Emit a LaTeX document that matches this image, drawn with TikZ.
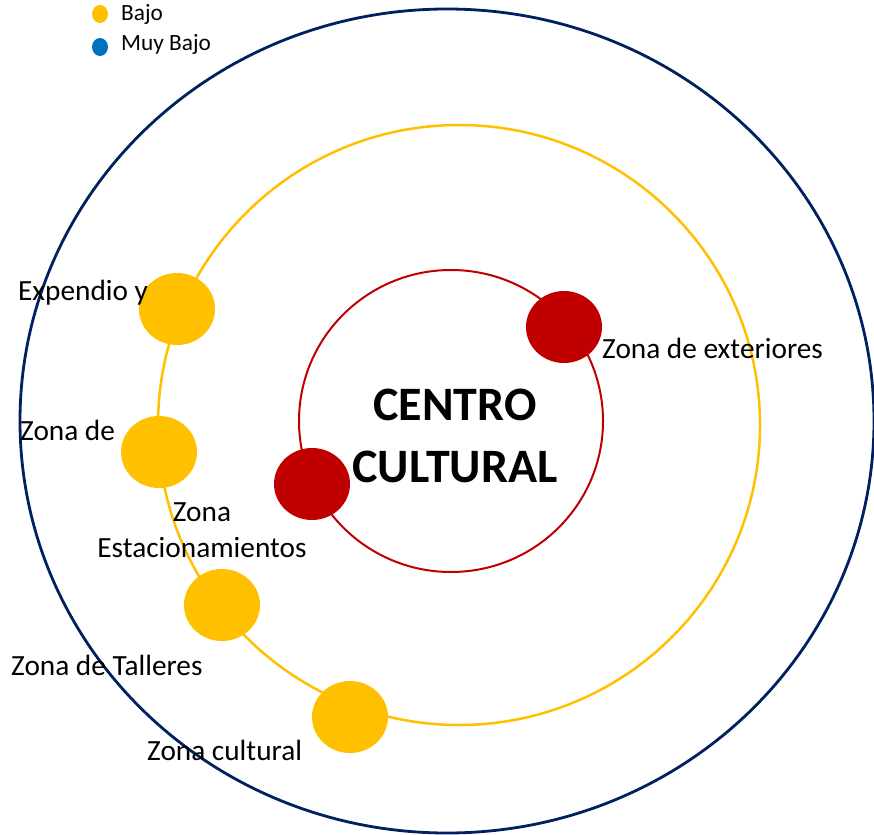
\documentclass[tikz,border=0pt]{standalone}
\usepackage{fontspec}
\setmainfont{Carlito}
\usetikzlibrary{shapes.geometric}
\definecolor{navyring}{HTML}{002060}
\definecolor{amber}{HTML}{FFC000}
\definecolor{deepred}{HTML}{C00000}
\definecolor{legendblue}{HTML}{0070C0}
\tikzset{
  zonedot/.style={ellipse, minimum width=76pt, minimum height=72pt, inner sep=0pt},
  legdot/.style={ellipse, minimum width=16pt, minimum height=18pt, inner sep=0pt},
  zonelabel/.style={inner sep=0pt, font=\fontsize{29.3}{35}\selectfont},
  leglabel/.style={inner sep=0pt, anchor=west, font=\fontsize{23.3}{27}\selectfont}
}
\begin{document}
\begin{tikzpicture}[x=1pt,y=-1pt]
\useasboundingbox (0,0) rectangle (874,834);
% rings
\draw[navyring, line width=2.8pt] (447,421) ellipse [x radius=427, y radius=412];
\draw[amber, line width=2.5pt] (459,425) ellipse [x radius=301, y radius=300];
\draw[deepred, line width=2pt] (451,421) ellipse [x radius=152, y radius=151];

% legend
\node[legdot, fill=amber] (bajodot) at (100,14) {};
\node[leglabel] (bajo) at (121,14) {Bajo};
\node[legdot, fill=legendblue] (muybajodot) at (100,47) {};
\node[leglabel] (muybajo) at (121,44) {Muy Bajo};

% dots
\node[zonedot, fill=deepred] (exteriores) at (564,327) {};
\node[zonedot, fill=deepred] (estac) at (312,484) {};
\node[zonedot, fill=amber] (expendio) at (177,309) {};
\node[zonedot, fill=amber] (zonade) at (159,452) {};
\node[zonedot, fill=amber] (talleres) at (222,605) {};
\node[zonedot, fill=amber] (cultural) at (350,717) {};

% labels
\node[align=center, inner sep=0pt, font=\fontsize{48}{62}\selectfont\bfseries] (centro) at (455,436) {CENTRO\\CULTURAL};
\node[zonelabel, anchor=west] (exterioreslbl) at (602,348) {Zona de exteriores};
\node[zonelabel, anchor=west] (expendiolbl) at (18,293) {Expendio y};
\node[zonelabel, anchor=west] (zonadelbl) at (20,430) {Zona de};
\node[zonelabel, align=center, font=\fontsize{29.3}{36}\selectfont] (estaclbl) at (202,530) {Zona\\Estacionamientos};
\node[zonelabel, anchor=west] (talleres lbl) at (11,665) {Zona de Talleres};
\node[zonelabel, anchor=west] (culturallbl) at (147,750) {Zona cultural};
\end{tikzpicture}
\end{document}
